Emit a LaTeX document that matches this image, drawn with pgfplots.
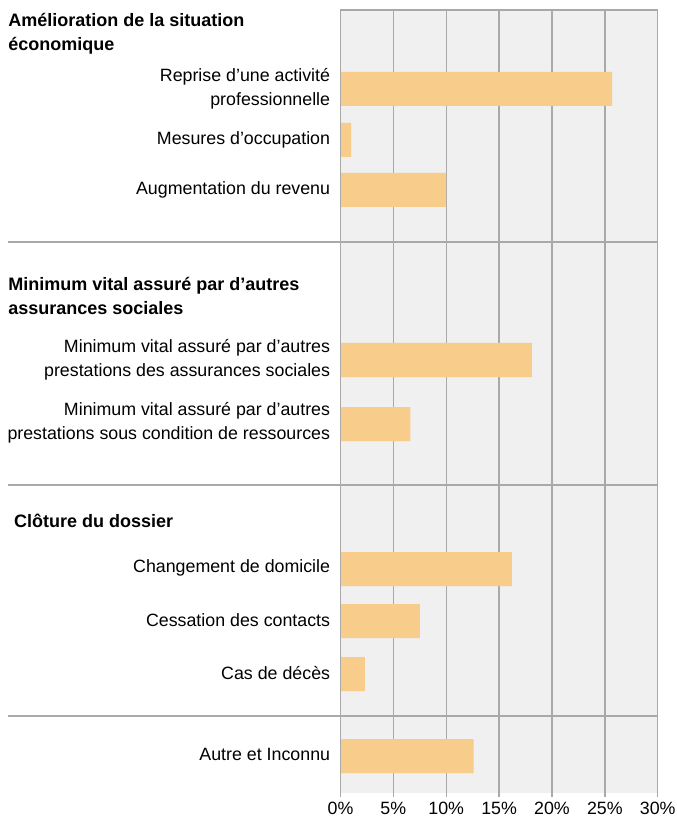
\documentclass[border=0pt]{standalone}
\usepackage{pgfplots}
\pgfplotsset{compat=1.18}
\usepackage{fontspec}
\setmainfont{Liberation Sans}
\definecolor{bg}{HTML}{EFF0EF}
\definecolor{barc}{HTML}{F8CC8A}
\definecolor{gridc}{HTML}{A9A9A9}
\begin{document}
\begin{tikzpicture}
\begin{axis}[
  x=5.287pt, y=0.5pt, y dir=reverse,
  xmin=0, xmax=30, ymin=10, ymax=793,
  clip=false,
  axis background/.style={fill=bg},
  axis line style={draw=none},
  xtick={0,5,...,30},
  xmajorgrids,
  grid style={gridc, line width=0.7pt},
  ytick=\empty,
  xtick pos=lower, tick align=outside,
  major tick length=2pt,
  tick style={gridc, line width=0.7pt},
  xticklabel={\pgfmathprintnumber{\tick}\%},
  xticklabel style={font=\fontsize{8.9}{10}\selectfont, yshift=1pt},
  /pgf/number format/assume math mode=true,
]
\addplot[xbar, bar width=34, fill=barc, draw=none] coordinates {
  (25.7,89) (1.0,140) (10.0,190)
  (18.1,360) (6.6,424)
  (16.2,569) (7.5,621) (2.3,674)
  (12.6,756)
};
% frame: top, left, right
\draw[gridc, line width=0.7pt] (axis cs:0,793) -- (axis cs:0,10) -- (axis cs:30,10) -- (axis cs:30,793);
% separators
\draw[gridc, line width=0.7pt] (axis cs:-31.45,242) -- (axis cs:30,242);
\draw[gridc, line width=0.7pt] (axis cs:-31.45,485) -- (axis cs:30,485);
\draw[gridc, line width=0.7pt] (axis cs:-31.45,716) -- (axis cs:30,716);
% labels
\tikzset{lab/.style={anchor=east, align=right, inner sep=0pt, xshift=-5pt, font=\fontsize{8.9}{11.8}\selectfont},
         hdr/.style={anchor=west, align=left, inner sep=0pt, font=\fontsize{9}{11.8}\selectfont\bfseries}}
\node[hdr] at (axis cs:-31.45,34) {Amélioration de la situation\\économique};
\node[lab] at (axis cs:0,89) {Reprise d’une activité\\professionnelle};
\node[lab] at (axis cs:0,140) {Mesures d’occupation};
\node[lab] at (axis cs:0,190) {Augmentation du revenu};
\node[hdr] at (axis cs:-31.45,296) {Minimum vital assuré par d’autres\\assurances sociales};
\node[lab] at (axis cs:0,360) {Minimum vital assuré par d’autres\\prestations des assurances sociales};
\node[lab] at (axis cs:0,423) {Minimum vital assuré par d’autres\\prestations sous condition de ressources};
\node[hdr] at (axis cs:-30.9,521) {Clôture du dossier};
\node[lab] at (axis cs:0,568) {Changement de domicile};
\node[lab] at (axis cs:0,620) {Cessation des contacts};
\node[lab] at (axis cs:0,673) {Cas de décès};
\node[lab] at (axis cs:0,754) {Autre et Inconnu};
\coordinate (tl) at (axis cs:-32.2,0);
\coordinate (br) at (axis cs:31.73,823);
\end{axis}
\pgfresetboundingbox
\path (tl) rectangle (br);
\end{tikzpicture}
\end{document}
